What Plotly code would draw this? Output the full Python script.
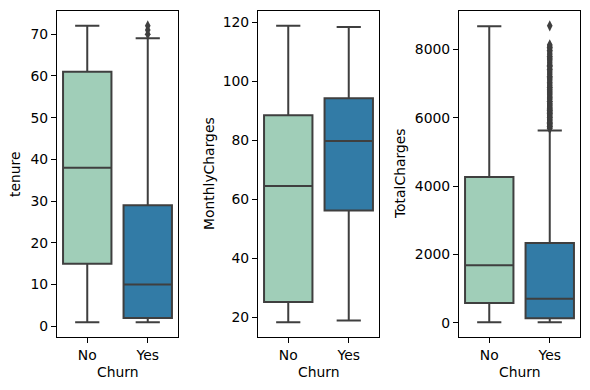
import plotly.graph_objects as go

categories = ["No", "Yes"]
colors = ["#a0ceb8", "#327ba6"]
line_color = "#3f3f3f"

# tenure
tenure_low = [1, 1]
tenure_q1 = [15, 2]
tenure_med = [38, 10]
tenure_q3 = [61, 29]
tenure_high = [72, 69]
tenure_out_yes = [70, 71, 72]

# MonthlyCharges
mc_low = [18.25, 18.85]
mc_q1 = [25.1, 56.15]
mc_med = [64.43, 79.65]
mc_q3 = [88.4, 94.2]
mc_high = [118.75, 118.35]

# TotalCharges
tc_low = [18.8, 18.85]
tc_q1 = [577.1, 134.5]
tc_med = [1683.6, 703.55]
tc_q3 = [4264.1, 2331.3]
tc_high = [8672.45, 5624.85]
tc_out_yes = [5680.9, 5706.3, 5731.4, 5750.0, 5769.6, 5794.6, 5812.0, 5839.3, 5861.8,
              5893.9, 5916.4, 5941.0, 5960.5, 5986.4, 6010.0, 6033.1, 6056.9, 6081.4,
              6103.3, 6126.1, 6148.5, 6171.2, 6194.1, 6218.4, 6241.4, 6263.8, 6287.3,
              6312.3, 6339.3, 6362.4, 6383.4, 6405.0, 6430.9, 6461.4, 6480.0, 6520.1,
              6548.6, 6579.1, 6602.5, 6631.7, 6666.0, 6697.4, 6725.5, 6758.4, 6789.4,
              6821.1, 6859.5, 6885.3, 6921.7, 6952.3, 6993.6, 7030.8, 7069.6, 7108.2,
              7133.3, 7171.7, 7209.0, 7251.8, 7297.6, 7334.5, 7372.7, 7416.2, 7452.4,
              7499.8, 7534.7, 7567.8, 7611.5, 7656.4, 7689.9, 7723.7, 7752.3, 7795.9,
              7842.1, 7882.4, 7922.8, 7968.9, 8012.4, 8058.9, 8093.2, 8127.6, 8684.8]

panels = [
    ("tenure", tenure_low, tenure_q1, tenure_med, tenure_q3, tenure_high, tenure_out_yes,
     [-2.55, 75.55], list(range(0, 71, 10))),
    ("MonthlyCharges", mc_low, mc_q1, mc_med, mc_q3, mc_high, [],
     [13.225, 123.775], list(range(20, 121, 20))),
    ("TotalCharges", tc_low, tc_q1, tc_med, tc_q3, tc_high, tc_out_yes,
     [-414.5, 9118.0], list(range(0, 8001, 2000))),
]

W, H = 590, 390
OFF = 8  # page body margin offset
xdoms = [(57, 178), (258, 379), (459, 580)]
ytop, ybot = 11, 337
ydom = [1 - (ybot - OFF) / H, 1 - (ytop - OFF) / H]
title_x = [15, 209, 400]

fig = go.Figure()
font = dict(family="DejaVu Sans", size=13.9, color="#000000")
annotations = []

for i, (name, lo, q1, med, q3, hi, outs, yr, tv) in enumerate(panels):
    ax = "" if i == 0 else str(i + 1)
    xa, ya = "x" + ax, "y" + ax
    for j, cat in enumerate(categories):
        fig.add_trace(go.Box(
            x=[cat], q1=[q1[j]], median=[med[j]], q3=[q3[j]],
            lowerfence=[lo[j]], upperfence=[hi[j]],
            fillcolor=colors[j], line=dict(color=line_color, width=2),
            width=0.8, whiskerwidth=0.5, boxpoints=False,
            xaxis=xa, yaxis=ya, showlegend=False, hoverinfo="skip"))
    if outs:
        fig.add_trace(go.Scatter(
            x=["Yes"] * len(outs), y=outs, mode="markers",
            marker=dict(symbol="diamond-tall", size=8, color=line_color, line=dict(width=0)),
            xaxis=xa, yaxis=ya, showlegend=False, hoverinfo="skip"))
    x0, x1 = xdoms[i]
    common = dict(showline=True, linecolor="#000000", linewidth=1.1, mirror=True,
                  ticks="outside", ticklen=5, tickcolor="#000000", tickwidth=1.1,
                  showgrid=False, zeroline=False, tickfont=font)
    fig.layout["xaxis" + ax] = dict(domain=[(x0 - OFF) / W, (x1 - OFF) / W], anchor=ya,
                                    type="category", categoryorder="array",
                                    categoryarray=categories, range=[-0.5, 1.5], **common)
    fig.layout["yaxis" + ax] = dict(domain=ydom, anchor=xa, range=yr, tickvals=tv,
                                    ticktext=[str(v) for v in tv], **common)
    annotations.append(dict(text=name, x=(title_x[i] - OFF) / W, y=1 - (174 - OFF) / H,
                            xref="paper", yref="paper",
                            textangle=-90, showarrow=False, font=font,
                            xanchor="center", yanchor="middle"))
    annotations.append(dict(text="Churn", x=((x0 + x1) / 2 - OFF) / W, y=1 - (372 - OFF) / H,
                            xref="paper", yref="paper", showarrow=False, font=font,
                            xanchor="center", yanchor="middle"))

fig.update_layout(width=W, height=H, margin=dict(l=0, r=0, t=0, b=0),
                  paper_bgcolor="white", plot_bgcolor="white",
                  annotations=annotations, font=font, boxmode="group", boxgap=0.2)
fig.write_html("out.html")
